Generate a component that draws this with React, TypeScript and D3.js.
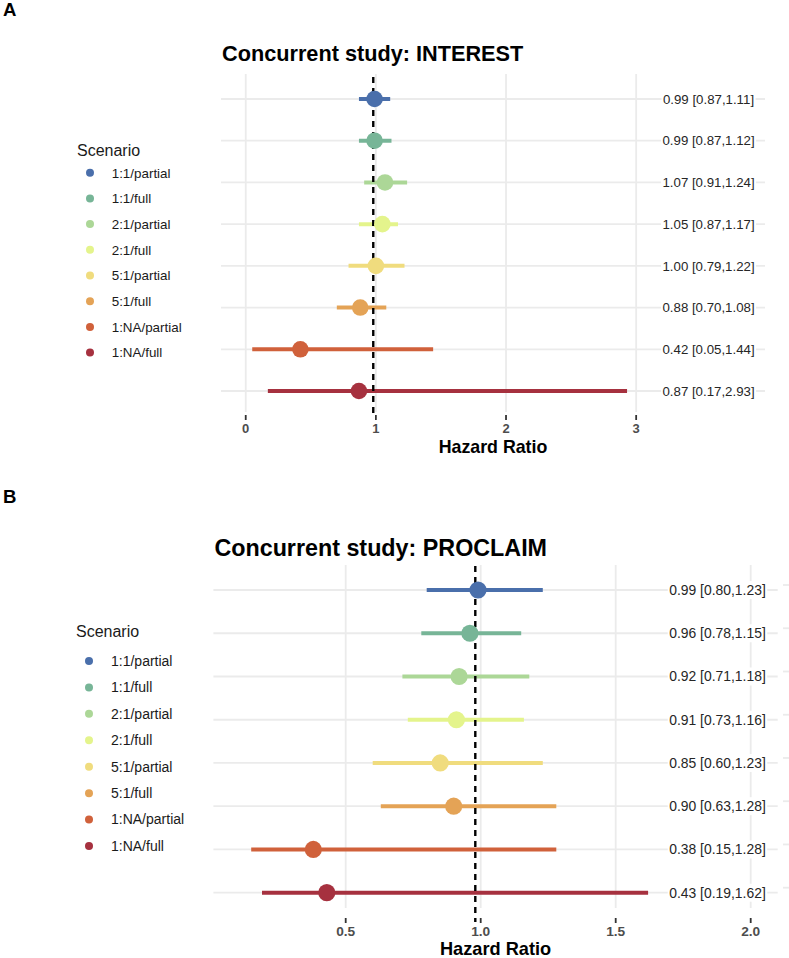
import React, { useEffect, useRef } from 'react';
import * as d3 from 'd3';

const scenarios = ['1:1/partial', '1:1/full', '2:1/partial', '2:1/full', '5:1/partial', '5:1/full', '1:NA/partial', '1:NA/full'];
const scenarioColors = ['#4a6fab', '#77b597', '#acd797', '#e4f48c', '#f0dc7e', '#e4a356', '#d0613b', '#a6313f'];

const interestHR = [0.99, 0.99, 1.07, 1.05, 1.0, 0.88, 0.42, 0.87];
const interestLo = [0.87, 0.87, 0.91, 0.87, 0.79, 0.7, 0.05, 0.17];
const interestHi = [1.11, 1.12, 1.24, 1.17, 1.22, 1.08, 1.44, 2.93];
const interestTicks = [0, 1, 2, 3];

const proclaimHR = [0.99, 0.96, 0.92, 0.91, 0.85, 0.9, 0.38, 0.43];
const proclaimLo = [0.8, 0.78, 0.71, 0.73, 0.6, 0.63, 0.15, 0.19];
const proclaimHi = [1.23, 1.15, 1.18, 1.16, 1.23, 1.28, 1.28, 1.62];
const proclaimTicks = [0.5, 1.0, 1.5, 2.0];

const refValue = 0.98;

const W = 789;
const H = 958;
const FONT = '"Liberation Sans", Arial, Helvetica, sans-serif';

type Panel = {
  tag: string;
  tagY: number;
  title: string;
  titleY: number;
  titleSize: number;
  legTitleY: number;
  legY0: number;
  legStep: number;
  legDotX: number;
  legTextX: number;
  legSize: number;
  hr: number[];
  lo: number[];
  hi: number[];
  ticks: number[];
  tickFmt: (v: number) => string;
  xDomain: [number, number];
  xRange: [number, number];
  yRange: [number, number];
  gridTop: number;
  gridBottom: number;
  tickY1: number;
  tickY2: number;
  tickLabelY: number;
  tickSize: number;
  axisTitleY: number;
  axisTitleSize: number;
  labelX: number;
  labelSize: number;
  dashY: [number, number];
  edgeMarks: boolean;
  pointR: number;
};

const panels: Panel[] = [
  {
    tag: 'A', tagY: 16, title: 'Concurrent study: INTEREST', titleY: 61, titleSize: 21.7,
    legTitleY: 155.5, legY0: 172.7, legStep: 25.7, legDotX: 90, legTextX: 111.7, legSize: 13.4,
    hr: interestHR, lo: interestLo, hi: interestHi, ticks: interestTicks, tickFmt: (v) => d3.format('d')(v),
    xDomain: [-0.19, 3.99], xRange: [221, 765], yRange: [99, 391],
    gridTop: 74, gridBottom: 412, tickY1: 415, tickY2: 420, tickLabelY: 433, tickSize: 13,
    axisTitleY: 453, axisTitleSize: 17.8, labelX: 3.556, labelSize: 13.25, dashY: [77, 418], edgeMarks: false, pointR: 8.3,
  },
  {
    tag: 'B', tagY: 503, title: 'Concurrent study: PROCLAIM', titleY: 556, titleSize: 23.3,
    legTitleY: 637, legY0: 661, legStep: 26.43, legDotX: 89, legTextX: 111, legSize: 14,
    hr: proclaimHR, lo: proclaimLo, hi: proclaimHi, ticks: proclaimTicks, tickFmt: (v) => d3.format('.1f')(v),
    xDomain: [0.01, 2.1], xRange: [213.4, 777.7], yRange: [590, 892.7],
    gridTop: 565, gridBottom: 908, tickY1: 918, tickY2: 923, tickLabelY: 936, tickSize: 13.7,
    axisTitleY: 955, axisTitleSize: 18.2, labelX: 1.877, labelSize: 13.9, dashY: [566, 922], edgeMarks: true, pointR: 8.6,
  },
];

function drawPanel(svg: d3.Selection<SVGSVGElement, unknown, null, undefined>, p: Panel) {
  const g = svg.append('g').attr('font-family', FONT);
  const x = d3.scaleLinear().domain(p.xDomain).range(p.xRange);
  const y = d3.scalePoint<string>().domain(scenarios).range(p.yRange);
  const rows = scenarios.map((s, i) => ({ s, i, hr: p.hr[i], lo: p.lo[i], hi: p.hi[i], c: scenarioColors[i] }));

  // tag and title
  g.append('text').attr('x', 3).attr('y', p.tagY).attr('font-size', 18.6).attr('font-weight', 'bold').attr('fill', '#000').text(p.tag);
  g.append('text').attr('x', p.xRange[0] + 1).attr('y', p.titleY).attr('font-size', p.titleSize).attr('font-weight', 'bold').attr('fill', '#000').text(p.title);

  // legend
  g.append('text').attr('x', p.legDotX - 13).attr('y', p.legTitleY).attr('font-size', 16).attr('fill', '#1a1a1a').text('Scenario');
  const leg = g.append('g');
  rows.forEach((r) => {
    const ly = p.legY0 + r.i * p.legStep;
    leg.append('circle').attr('cx', p.legDotX).attr('cy', ly).attr('r', 4).attr('fill', r.c);
    leg.append('text').attr('x', p.legTextX).attr('y', ly + 4.8).attr('font-size', p.legSize).attr('fill', '#1a1a1a').text(r.s);
  });

  // grid
  const grid = g.append('g').attr('stroke', '#ebebeb').attr('stroke-width', 1.8);
  p.ticks.forEach((t) => {
    grid.append('line').attr('x1', x(t)).attr('x2', x(t)).attr('y1', p.gridTop).attr('y2', p.gridBottom);
  });
  rows.forEach((r) => {
    grid.append('line').attr('x1', p.xRange[0]).attr('x2', p.xRange[1]).attr('y1', y(r.s)!).attr('y2', y(r.s)!);
  });
  if (p.edgeMarks) {
    rows.forEach((r) => {
      grid.append('line').attr('x1', 783).attr('x2', 789).attr('y1', y(r.s)! - 5).attr('y2', y(r.s)! - 5);
    });
  }

  // labels with white boxes
  const lab = g.append('g');
  rows.forEach((r) => {
    const t = lab.append('text')
      .attr('x', x(p.labelX)).attr('y', y(r.s)! + p.labelSize * 0.36)
      .attr('text-anchor', 'middle').attr('font-size', p.labelSize).attr('fill', '#262626')
      .text(`${r.hr.toFixed(2)} [${r.lo.toFixed(2)},${r.hi.toFixed(2)}]`);
    const bb = (t.node() as SVGTextElement).getBBox();
    lab.insert('rect', () => t.node() as any)
      .attr('x', bb.x - 1.5).attr('y', bb.y - 1).attr('width', bb.width + 3).attr('height', bb.height + 2).attr('fill', '#fff');
  });

  // axis ticks + labels
  const ax = g.append('g');
  p.ticks.forEach((t) => {
    ax.append('line').attr('x1', x(t)).attr('x2', x(t)).attr('y1', p.tickY1).attr('y2', p.tickY2).attr('stroke', '#333').attr('stroke-width', 1.8);
    ax.append('text').attr('x', x(t)).attr('y', p.tickLabelY).attr('text-anchor', 'middle')
      .attr('font-size', p.tickSize).attr('font-weight', 'bold').attr('fill', '#4d4d4d').text(p.tickFmt(t));
  });
  ax.append('text').attr('x', (p.xRange[0] + p.xRange[1]) / 2).attr('y', p.axisTitleY).attr('text-anchor', 'middle')
    .attr('font-size', p.axisTitleSize).attr('font-weight', 'bold').attr('fill', '#000').text('Hazard Ratio');

  // error bars
  g.append('g').selectAll('line').data(rows).join('line')
    .attr('x1', (d) => x(d.lo)).attr('x2', (d) => x(d.hi))
    .attr('y1', (d) => y(d.s)!).attr('y2', (d) => y(d.s)!)
    .attr('stroke', (d) => d.c).attr('stroke-width', 4);

  // reference dashed line
  g.append('line').attr('x1', x(refValue)).attr('x2', x(refValue)).attr('y1', p.dashY[0]).attr('y2', p.dashY[1])
    .attr('stroke', '#000').attr('stroke-width', 2.4).attr('stroke-dasharray', '6,5');

  // points
  g.append('g').selectAll('circle').data(rows).join('circle')
    .attr('cx', (d) => x(d.hr)).attr('cy', (d) => y(d.s)!).attr('r', p.pointR).attr('fill', (d) => d.c);
}

export default function App() {
  const ref = useRef<SVGSVGElement>(null);
  useEffect(() => {
    if (!ref.current) return;
    const svg = d3.select(ref.current);
    svg.selectAll('*').remove();
    svg.append('rect').attr('width', W).attr('height', H).attr('fill', '#fff');
    panels.forEach((p) => drawPanel(svg as any, p));
  }, []);
  return (
    <svg
      ref={ref}
      width={W}
      height={H}
      style={{ position: 'absolute', left: 0, top: 0, display: 'block' }}
    />
  );
}
